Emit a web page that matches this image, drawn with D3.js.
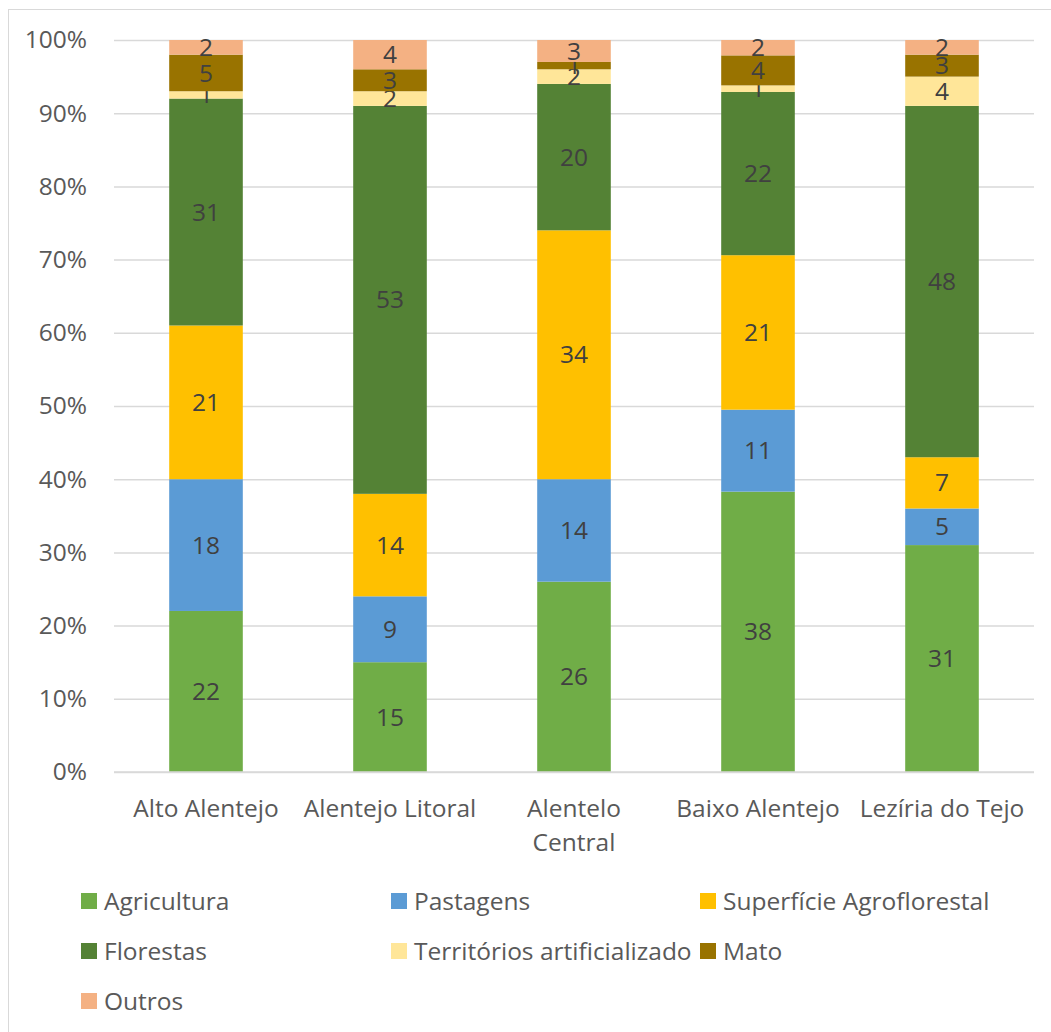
<!DOCTYPE html>
<html>
<head>
<meta charset="utf-8">
<script src="https://cdn.jsdelivr.net/npm/d3@7"></script>
<style>
  body { margin: 0; background: #fff; }
  text { font-family: "Open Sans", sans-serif; }
</style>
</head>
<body>
<div id="chart"></div>
<script>
// land use shares per region (%)
const categories = ["Alto Alentejo", "Alentejo Litoral", "Alentelo Central", "Baixo Alentejo", "Lezíria do Tejo"];
const tickLabels = [["Alto Alentejo"], ["Alentejo Litoral"], ["Alentelo", "Central"], ["Baixo Alentejo"], ["Lezíria do Tejo"]];
const seriesNames = ["Agricultura", "Pastagens", "Superfície Agroflorestal", "Florestas", "Territórios artificializado", "Mato", "Outros"];
const agricultura = [22, 15, 26, 38.3, 31];
const pastagens = [18, 9, 14, 11.2, 5];
const superficie = [21, 14, 34, 21.1, 7];
const florestas = [31, 53, 20, 22.3, 48];
const territorios = [1, 2, 2, 0.9, 4];
const mato = [5, 3, 1, 4.1, 3];
const outros = [2, 4, 3, 2.1, 2];
const yTicks = [0, 10, 20, 30, 40, 50, 60, 70, 80, 90, 100];
const colors = ["#70AD47", "#5B9BD5", "#FFC000", "#548235", "#FFE699", "#997300", "#F4B183"];

const allSeries = [agricultura, pastagens, superficie, florestas, territorios, mato, outros];

const width = 1051, height = 1032;
const margin = { top: 40, left: 114, right: 17, bottom: 260 };
const innerW = width - margin.left - margin.right;
const innerH = 772 - margin.top;
const fs = 24.5;

const rows = categories.map((c, i) => {
    const r = { cat: c };
    seriesNames.forEach((s, j) => r[s] = allSeries[j][i]);
    return r;
});
const stacked = d3.stack().keys(seriesNames).offset(d3.stackOffsetExpand)(rows);

const svg = d3.select("#chart").append("svg")
    .attr("width", width)
    .attr("height", height);

// chart frame
svg.append("rect")
    .attr("x", 8.5).attr("y", 9.5)
    .attr("width", width + 10).attr("height", height + 10)
    .attr("fill", "none")
    .attr("stroke", "#d9d9d9")
    .attr("stroke-width", 1);

const g = svg.append("g").attr("transform", `translate(${margin.left},${margin.top})`);

const x = d3.scaleBand().domain(categories).range([0, innerW]).paddingInner(0.6).paddingOuter(0.3);
const y = d3.scaleLinear().domain([0, 1]).range([innerH, 0]);

// gridlines
g.append("g")
    .call(d3.axisLeft(y).tickValues(yTicks.map(t => t / 100)).tickSize(-innerW).tickFormat(""))
    .call(a => a.select(".domain").remove())
    .call(a => a.selectAll("line").attr("stroke", "#d9d9d9").attr("stroke-width", 1.5));

// y labels
g.append("g")
    .call(d3.axisLeft(y).tickValues(yTicks.map(t => t / 100)).tickSize(0).tickPadding(27).tickFormat(d => Math.round(d * 100) + "%"))
    .call(a => a.select(".domain").remove())
    .call(a => a.selectAll("text").attr("fill", "#595959").attr("font-size", fs).attr("font-family", "Open Sans"));

// bars
const layer = g.selectAll(".layer")
    .data(stacked)
    .enter().append("g")
    .attr("fill", (d, i) => colors[i]);

layer.selectAll("rect")
    .data(d => d)
    .enter().append("rect")
    .attr("x", d => x(d.data.cat))
    .attr("y", d => y(d[1]))
    .attr("width", x.bandwidth())
    .attr("height", d => y(d[0]) - y(d[1]));

// data labels
layer.selectAll("text")
    .data((d, i) => d.map(v => ({ v, val: allSeries[i][categories.indexOf(v.data.cat)] })))
    .enter().append("text")
    .attr("x", d => x(d.v.data.cat) + x.bandwidth() / 2)
    .attr("y", d => (y(d.v[0]) + y(d.v[1])) / 2)
    .attr("dy", "0.35em")
    .attr("text-anchor", "middle")
    .attr("fill", "#404040")
    .attr("font-size", fs)
    .text(d => Math.round(d.val));

// x axis line
g.append("line")
    .attr("x1", 0).attr("x2", innerW)
    .attr("y1", innerH).attr("y2", innerH)
    .attr("stroke", "#d9d9d9").attr("stroke-width", 1.5);

// x labels
const xl = g.append("g").selectAll("text")
    .data(categories)
    .enter().append("text")
    .attr("x", d => x(d) + x.bandwidth() / 2)
    .attr("y", innerH + 45)
    .attr("text-anchor", "middle")
    .attr("fill", "#595959")
    .attr("font-size", fs);
xl.selectAll("tspan")
    .data((d, i) => tickLabels[i])
    .enter().append("tspan")
    .attr("x", function () { return this.parentNode.getAttribute("x"); })
    .attr("dy", (d, i) => i === 0 ? 0 : 34)
    .text(d => d);

// legend
const legX = [81, 391, 700];
const leg = svg.append("g").selectAll("g")
    .data(seriesNames)
    .enter().append("g")
    .attr("transform", (d, i) => `translate(${legX[i % 3]},${893 + Math.floor(i / 3) * 50})`);
leg.append("rect")
    .attr("width", 16).attr("height", 16)
    .attr("fill", (d, i) => colors[i]);
leg.append("text")
    .attr("x", 23).attr("y", 8)
    .attr("dy", "0.35em")
    .attr("fill", "#595959")
    .attr("font-size", fs)
    .text(d => d);
</script>
</body>
</html>
